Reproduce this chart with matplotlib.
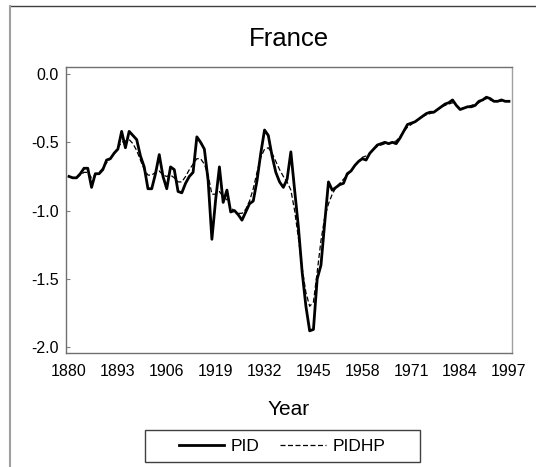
import numpy as np
import matplotlib
matplotlib.use("Agg")
import matplotlib.pyplot as plt
from matplotlib.lines import Line2D
from matplotlib.patches import Rectangle

plt.rcParams['font.family'] = ['Liberation Sans', 'DejaVu Sans']

# yearly values, 1880-1997
years = np.arange(1880, 1998)

pid = [
    -0.75, -0.76, -0.76, -0.73, -0.69, -0.69, -0.83, -0.73, -0.73, -0.70,  # 1880s
    -0.63, -0.62, -0.58, -0.55, -0.42, -0.54, -0.42, -0.45, -0.48, -0.60,  # 1890s
    -0.68, -0.84, -0.84, -0.73, -0.59, -0.75, -0.84, -0.68, -0.70, -0.86,  # 1900s
    -0.87, -0.80, -0.75, -0.72, -0.46, -0.50, -0.55, -0.78, -1.21, -0.92,  # 1910s
    -0.68, -0.94, -0.85, -1.01, -1.00, -1.03, -1.07, -1.01, -0.95, -0.93,  # 1920s
    -0.78, -0.58, -0.41, -0.45, -0.60, -0.72, -0.79, -0.83, -0.77, -0.57,  # 1930s
    -0.85, -1.12, -1.45, -1.70, -1.88, -1.87, -1.50, -1.40, -1.09, -0.79,  # 1940s
    -0.85, -0.83, -0.81, -0.80, -0.73, -0.71, -0.67, -0.64, -0.62, -0.63,  # 1950s
    -0.58, -0.55, -0.52, -0.51, -0.50, -0.51, -0.50, -0.51, -0.47, -0.42,  # 1960s
    -0.37, -0.36, -0.35, -0.33, -0.31, -0.29, -0.28, -0.28, -0.26, -0.24,  # 1970s
    -0.22, -0.21, -0.19, -0.23, -0.26, -0.25, -0.24, -0.24, -0.23, -0.20,  # 1980s
    -0.19, -0.17, -0.18, -0.20, -0.20, -0.19, -0.20, -0.20,                # 1990s
]

pidhp = [
    -0.75, -0.76, -0.76, -0.74, -0.72, -0.72, -0.76, -0.74, -0.72, -0.69,
    -0.65, -0.62, -0.58, -0.54, -0.50, -0.49, -0.48, -0.51, -0.56, -0.63,
    -0.70, -0.74, -0.74, -0.72, -0.71, -0.74, -0.75, -0.74, -0.76, -0.79,
    -0.79, -0.75, -0.70, -0.66, -0.62, -0.62, -0.66, -0.74, -0.88, -0.88,
    -0.86, -0.90, -0.92, -0.98, -1.00, -1.02, -1.02, -0.99, -0.93, -0.84,
    -0.72, -0.61, -0.55, -0.54, -0.58, -0.64, -0.70, -0.75, -0.79, -0.85,
    -1.00, -1.20, -1.42, -1.60, -1.70, -1.67, -1.45, -1.22, -1.05, -0.95,
    -0.88, -0.83, -0.80, -0.77, -0.74, -0.71, -0.67, -0.64, -0.61, -0.60,
    -0.58, -0.55, -0.53, -0.52, -0.51, -0.51, -0.50, -0.49, -0.46, -0.42,
    -0.39, -0.37, -0.35, -0.33, -0.31, -0.30, -0.29, -0.28, -0.26, -0.24,
    -0.23, -0.22, -0.21, -0.23, -0.25, -0.25, -0.24, -0.23, -0.22, -0.21,
    -0.19, -0.18, -0.19, -0.20, -0.20, -0.20, -0.20, -0.20,
]

xticks = [1880, 1893, 1906, 1919, 1932, 1945, 1958, 1971, 1984, 1997]
yticks = [0.0, -0.5, -1.0, -1.5, -2.0]

fig = plt.figure(figsize=(5.36, 4.67), dpi=100)
ax = fig.add_axes([0.1231, 0.2448, 0.8321, 0.6111])

ax.plot(years, pid, color='black', lw=2.0, label='PID')
ax.plot(years, pidhp, color='black', lw=0.9, ls=(0, (4, 2)), label='PIDHP')

ax.set_xlim(1879.2, 1997.8)
ax.set_ylim(-2.04, 0.049)
ax.set_xticks(xticks)
ax.set_yticks(yticks)
ax.set_yticklabels(['0.0', '-0.5', '-1.0', '-1.5', '-2.0'])
ax.tick_params(axis='x', length=0, pad=8, labelsize=11.5)
ax.tick_params(axis='y', direction='in', length=3, width=0.8, color='#808080',
               pad=5, labelsize=11.5)
for s in ax.spines.values():
    s.set_color('#707070')
    s.set_linewidth(1.0)
ax.spines['right'].set_color('#a0a0a0')

ax.set_title('France', fontsize=18.5, pad=15)
ax.set_xlabel('Year', fontsize=15, labelpad=15)

# legend in a wide box below the axis
fig.patches.append(Rectangle((145/536, 1-462/467), 275/536, 32/467,
                             transform=fig.transFigure, fill=False,
                             edgecolor='#404040', lw=1.0))
fig.legend(loc='center', bbox_to_anchor=(282/536, 1-446/467), ncol=2,
           frameon=False, fontsize=12.5, handlelength=2.6, columnspacing=1.2,
           handletextpad=0.4)

# outer frame lines
fig.add_artist(Line2D([10/536, 1], [1-6/467, 1-6/467], transform=fig.transFigure,
                      color='#404040', lw=1.0))
fig.add_artist(Line2D([10/536, 10/536], [0, 1-6/467], transform=fig.transFigure,
                      color='#a0a0a0', lw=1.5))

fig.savefig('out.png', dpi=100)
